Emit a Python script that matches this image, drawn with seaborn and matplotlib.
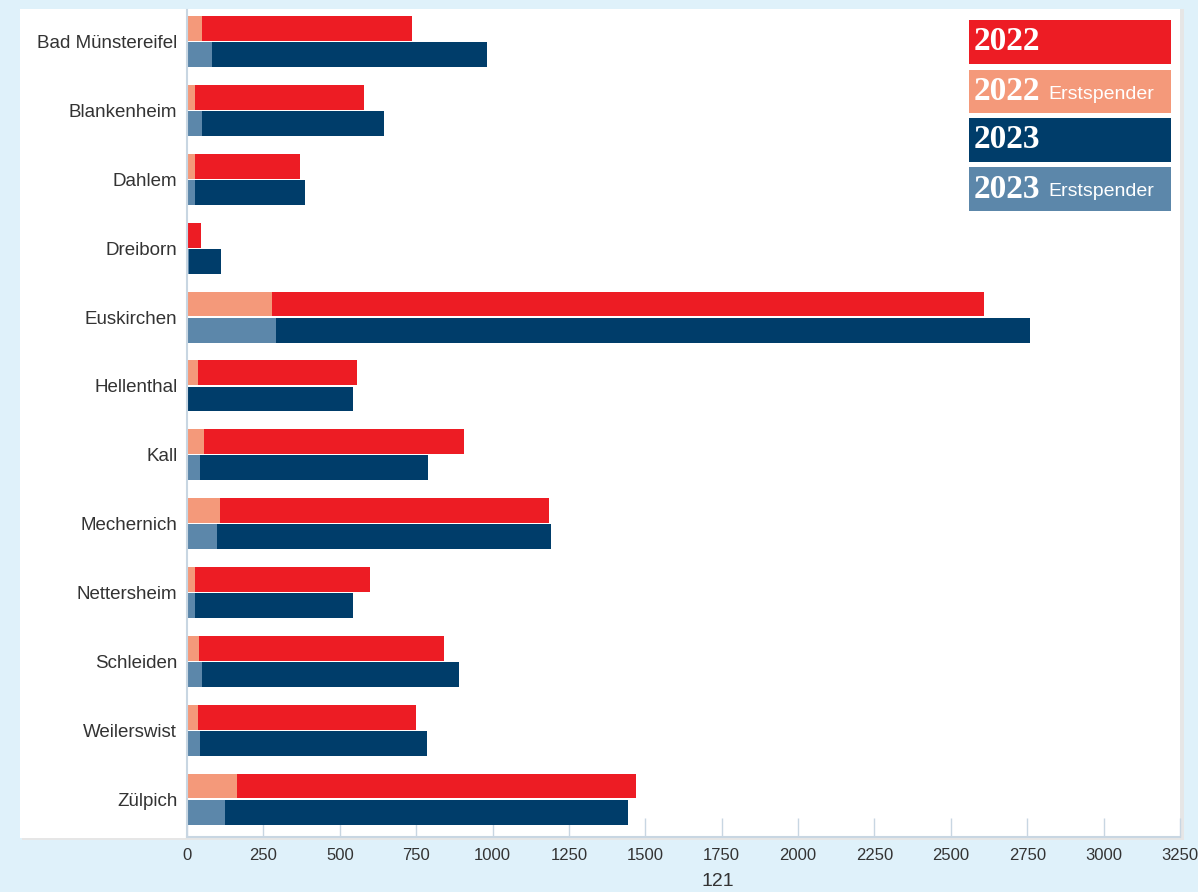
import matplotlib
matplotlib.use("Agg")
import matplotlib.pyplot as plt
from matplotlib.patches import Rectangle
import seaborn as sns
import pandas as pd

# ---- data ----
gemeinden = ["Bad Münstereifel", "Blankenheim", "Dahlem", "Dreiborn", "Euskirchen",
             "Hellenthal", "Kall", "Mechernich", "Nettersheim", "Schleiden",
             "Weilerswist", "Zülpich"]
spender_2022 = [736, 580, 371, 45, 2607, 558, 908, 1185, 600, 842, 750, 1469]
spender_2023 = [982, 646, 387, 112, 2760, 542, 788, 1191, 544, 891, 786, 1443]
erst_2022 = [50, 27, 25, 2, 279, 37, 57, 109, 27, 40, 37, 163]
erst_2023 = [81, 48, 25, 5, 290, 0, 44, 97, 27, 50, 44, 123]
years = ["2022", "2023"]
x_ticks = [0, 250, 500, 750, 1000, 1250, 1500, 1750, 2000, 2250, 2500, 2750, 3000, 3250]
legend_labels = [("2022", ""), ("2022", "Erstspender"), ("2023", ""), ("2023", "Erstspender")]
page_number = "121"

# ---- styling ----
RED = "#ED1C24"
SALMON = "#F4997A"
NAVY = "#003D6A"
STEEL = "#5C87AA"
BG = "#DFF1FA"
GRIDC = "#C8D6E2"

sns.set_theme(style="white")
plt.rcParams["font.family"] = ["Liberation Sans", "DejaVu Sans"]

total = pd.DataFrame({
    "Gemeinde": gemeinden * 2,
    "Jahr": [years[0]] * len(gemeinden) + [years[1]] * len(gemeinden),
    "Wert": spender_2022 + spender_2023,
})
erst = pd.DataFrame({
    "Gemeinde": gemeinden * 2,
    "Jahr": [years[0]] * len(gemeinden) + [years[1]] * len(gemeinden),
    "Wert": erst_2022 + erst_2023,
})

fig = plt.figure(figsize=(11.98, 8.92), dpi=100, facecolor=BG)

# white panel behind the chart
W, H = 1198, 892
fig.patches.append(Rectangle((22 / W, 1 - 840 / H), 1162 / W, 831 / H,
                             transform=fig.transFigure, facecolor="#E6E6E6",
                             edgecolor="none", zorder=-2))
fig.patches.append(Rectangle((20 / W, 1 - 838 / H), 1160 / W, 829 / H,
                             transform=fig.transFigure, facecolor="white",
                             edgecolor="none", zorder=-1))

ax = fig.add_axes([187 / W, 1 - 837 / H, (1180 - 187) / W, (837 - 10) / H])
ax.set_facecolor("none")
ax.set_zorder(1)

sns.barplot(data=total, y="Gemeinde", x="Wert", hue="Jahr", order=gemeinden,
            hue_order=years, palette={years[0]: RED, years[1]: NAVY},
            orient="h", width=0.76, gap=0.05, errorbar=None, ax=ax,
            legend=False, saturation=1, linewidth=0)
sns.barplot(data=erst, y="Gemeinde", x="Wert", hue="Jahr", order=gemeinden,
            hue_order=years, palette={years[0]: SALMON, years[1]: STEEL},
            orient="h", width=0.76, gap=0.05, errorbar=None, ax=ax,
            legend=False, saturation=1, linewidth=0)

ax.set_xlim(0, 3250)
ax.set_ylim(11.55, -0.46)
ax.set_xticks(x_ticks)
ax.set_xticklabels([str(t) for t in x_ticks])
ax.set_xlabel("")
ax.set_ylabel("")

for side in ["top", "right"]:
    ax.spines[side].set_visible(False)
for side in ["left", "bottom"]:
    ax.spines[side].set_color(GRIDC)
    ax.spines[side].set_linewidth(1.5)

ax.tick_params(axis="x", bottom=True, direction="in", length=14, width=1, color=GRIDC,
               pad=8, labelsize=12, labelcolor="#333333")
ax.tick_params(axis="y", left=False, length=0, pad=7, labelsize=13.5, labelcolor="#333333")

# legend boxes (upper right)
box_colors = [RED, SALMON, NAVY, STEEL]
rows = [(20, 64), (70, 113), (118, 162), (167, 211)]
x0, x1 = 969, 1171
for (lab, sub), col, (ya, yb) in zip(legend_labels, box_colors, rows):
    fig.patches.append(Rectangle((x0 / W, 1 - yb / H), (x1 - x0) / W, (yb - ya) / H,
                                 transform=fig.transFigure, facecolor=col,
                                 edgecolor="none", zorder=5))
    yc = 1 - (ya + yb) / 2 / H
    fig.text((x0 + 5) / W, yc, lab, color="white", fontsize=24,
             fontweight="bold", family=["Liberation Serif", "DejaVu Serif"],
             va="center", ha="left", zorder=6)
    if sub:
        fig.text((x0 + 79) / W, yc - 0.003, sub, color="white", fontsize=14,
                 va="center", ha="left", zorder=6)

fig.text(718 / W, 1 - 882 / H, page_number, fontsize=14, color="#333333",
         ha="center", va="center")

fig.savefig("out.png", dpi=100, facecolor=BG)
